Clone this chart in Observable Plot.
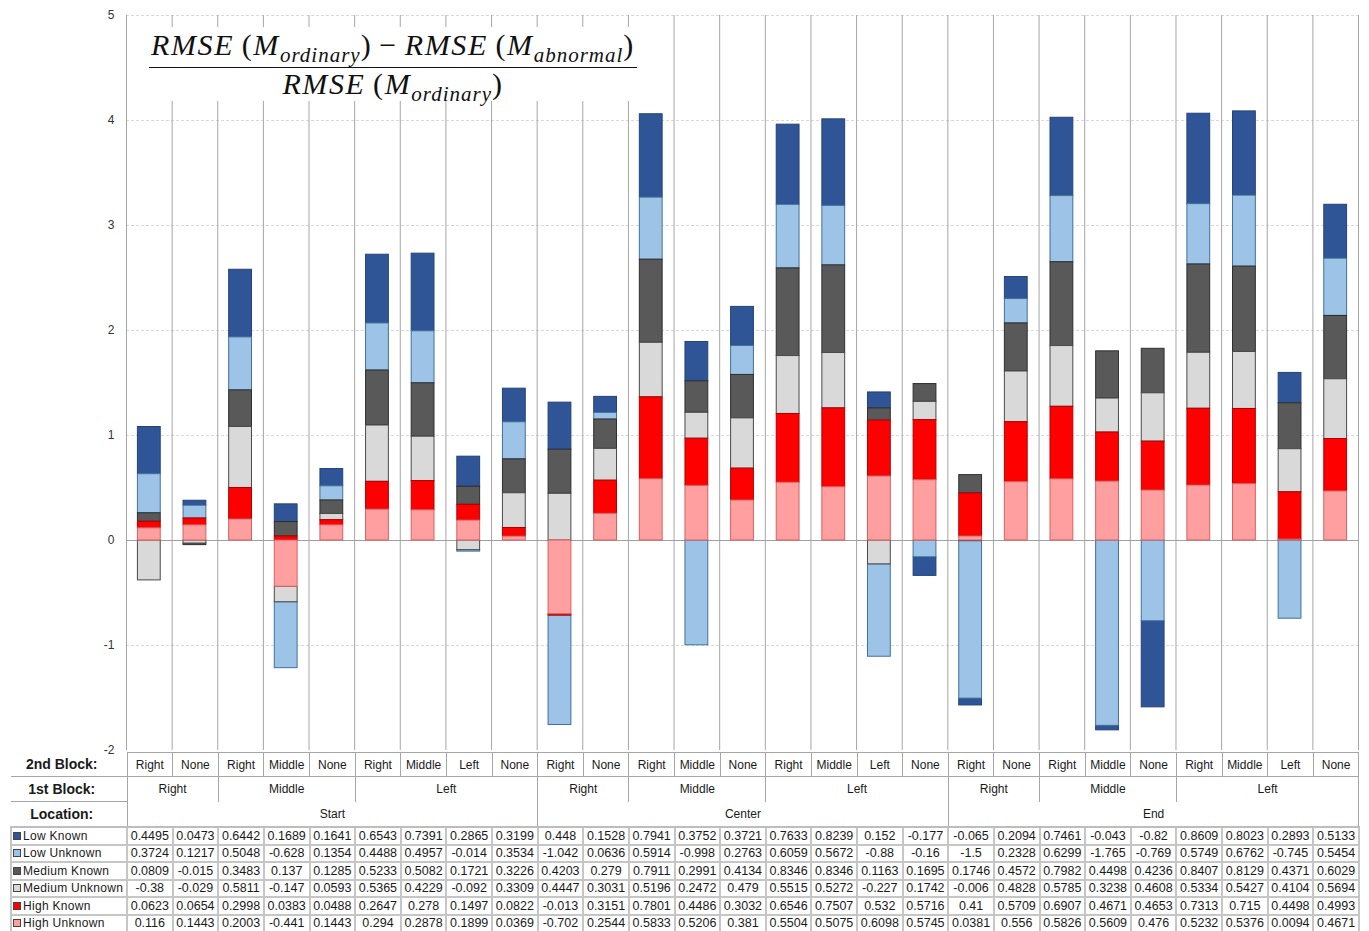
<!DOCTYPE html>
<html><head><meta charset="utf-8">
<script src="https://cdn.jsdelivr.net/npm/d3@7"></script>
<script src="https://cdn.jsdelivr.net/npm/@observablehq/plot@0.6"></script>
<style>
body{margin:0;background:#fff;font-family:"Liberation Sans",Arial,sans-serif;}
#wrap{position:relative;width:1369px;height:931px;overflow:hidden;background:#fff}
#chart{position:absolute;left:0;top:0}
#title{position:absolute;left:140px;top:27px;width:506px;height:74px;background:#fff;font-family:"Liberation Serif","Times New Roman",serif;color:#111;text-align:center;font-size:30px;line-height:1;letter-spacing:1.6px}
#title .num{display:inline-block;padding:3px 2px 7px 2px;border-bottom:1.5px solid #111;white-space:nowrap}
#title .den{display:block;padding-top:1px;white-space:nowrap}
#title sub{font-size:21px;vertical-align:-7px;line-height:0;letter-spacing:1px}
#title i{font-style:italic}
#title .op{margin:0 7px}
#tbl{position:absolute;left:10px;top:752px;border-collapse:collapse;table-layout:fixed;width:1348px;font-size:12px;color:#1a1a1a}
#tbl td{padding:0;text-align:center;overflow:hidden;white-space:nowrap}
#tbl tr.h1 td{height:23px;border:1px solid #a6a6a6}
#tbl tr.h2 td{height:24px;border-left:1px solid #a6a6a6;border-right:1px solid #a6a6a6;border-top:1px solid #a6a6a6;border-bottom:none}
#tbl tr.h3 td{height:24px;border-left:1px solid #a6a6a6;border-right:1px solid #a6a6a6;border-top:none;border-bottom:2px solid #bdbdbd}
#tbl tr.d td{height:15.5px;border:2px solid #c6c6c6;font-size:12.5px}
#tbl td.lab{font-weight:bold;font-size:14px;border-left:none !important;border-top:none !important;padding-right:14px}
#tbl tr.h2 td.lab, #tbl tr.h1 td.lab{border-bottom:1px solid #a6a6a6 !important}
#tbl tr.d td.sl{text-align:left;letter-spacing:0.3px;padding-left:1px;font-size:12px}
.sw{display:inline-block;width:6px;height:6px;border:1px solid #444;margin-right:2px;vertical-align:0px}
</style>
</head>
<body>
<div id="wrap">
  <div id="chart"></div>
  <div id="title">
    <span class="num"><i>RMSE</i>&#8201;(<i>M</i><sub><i>ordinary</i></sub>)<span class="op">−</span><i>RMSE</i>&#8201;(<i>M</i><sub><i>abnormal</i></sub>)</span>
    <span class="den"><i>RMSE</i>&#8201;(<i>M</i><sub><i>ordinary</i></sub>)</span>
  </div>
  <table id="tbl"></table>
</div>
<script>
// ---- data ----
const locations = ["Start", "Center", "End"];
const block1 = ["Right", "Right", "Middle", "Middle", "Middle", "Left", "Left", "Left", "Left"];
const block2 = ["Right", "None", "Right", "Middle", "None", "Right", "Middle", "Left", "None"];
const seriesNames = ["Low Known", "Low Unknown", "Medium Known", "Medium Unknown", "High Known", "High Unknown"];
const lowKnown = [0.4495, 0.0473, 0.6442, 0.1689, 0.1641, 0.6543, 0.7391, 0.2865, 0.3199,
  0.448, 0.1528, 0.7941, 0.3752, 0.3721, 0.7633, 0.8239, 0.152, -0.177,
  -0.065, 0.2094, 0.7461, -0.043, -0.82, 0.8609, 0.8023, 0.2893, 0.5133];
const lowUnknown = [0.3724, 0.1217, 0.5048, -0.628, 0.1354, 0.4488, 0.4957, -0.014, 0.3534,
  -1.042, 0.0636, 0.5914, -0.998, 0.2763, 0.6059, 0.5672, -0.88, -0.16,
  -1.5, 0.2328, 0.6299, -1.765, -0.769, 0.5749, 0.6762, -0.745, 0.5454];
const mediumKnown = [0.0809, -0.015, 0.3483, 0.137, 0.1285, 0.5233, 0.5082, 0.1721, 0.3226,
  0.4203, 0.279, 0.7911, 0.2991, 0.4134, 0.8346, 0.8346, 0.1163, 0.1695,
  0.1746, 0.4572, 0.7982, 0.4498, 0.4236, 0.8407, 0.8129, 0.4371, 0.6029];
const mediumUnknown = [-0.38, -0.029, 0.5811, -0.147, 0.0593, 0.5365, 0.4229, -0.092, 0.3309,
  0.4447, 0.3031, 0.5196, 0.2472, 0.479, 0.5515, 0.5272, -0.227, 0.1742,
  -0.006, 0.4828, 0.5785, 0.3238, 0.4608, 0.5334, 0.5427, 0.4104, 0.5694];
const highKnown = [0.0623, 0.0654, 0.2998, 0.0383, 0.0488, 0.2647, 0.278, 0.1497, 0.0822,
  -0.013, 0.3151, 0.7801, 0.4486, 0.3032, 0.6546, 0.7507, 0.532, 0.5716,
  0.41, 0.5709, 0.6907, 0.4671, 0.4653, 0.7313, 0.715, 0.4498, 0.4993];
const highUnknown = [0.116, 0.1443, 0.2003, -0.441, 0.1443, 0.294, 0.2878, 0.1899, 0.0369,
  -0.702, 0.2544, 0.5833, 0.5206, 0.381, 0.5504, 0.5075, 0.6098, 0.5745,
  0.0381, 0.556, 0.5826, 0.5609, 0.476, 0.5232, 0.5376, 0.0094, 0.4671];
const yTicks = [-2, -1, 0, 1, 2, 3, 4, 5];
const fillColors = ["#2f5597", "#9dc3e6", "#595959", "#d9d9d9", "#ff0000", "#ff9f9f"];
const strokeColors = ["#24427a", "#41719c", "#2e2e2e", "#4a4a4a", "#b00000", "#d86060"];
const stackOrder = ["High Unknown", "High Known", "Medium Unknown", "Medium Known", "Low Unknown", "Low Known"];

// ---- build ----
const seriesValues = [lowKnown, lowUnknown, mediumKnown, mediumUnknown, highKnown, highUnknown];
const columns = [];
locations.forEach(loc => block2.forEach((b2, j) => columns.push({loc, b1: block1[j], b2, key: `${loc}|${block1[j]}|${b2}`})));
const keys = columns.map(c => c.key);
const records = [];
seriesNames.forEach((s, si) => columns.forEach((c, ci) => records.push({
  key: c.key, series: s, value: seriesValues[si][ci], fill: fillColors[si], stroke: strokeColors[si]
})));

const W = 1369, ML = 126, MR = 11;
const step = (W - ML - MR) / keys.length;

const chart = Plot.plot({
  width: W, height: 760, marginLeft: ML, marginRight: MR, marginTop: 15, marginBottom: 10,
  style: {fontFamily: "Liberation Sans, Arial, sans-serif", fontSize: "12px", color: "#333", background: "transparent"},
  x: {domain: keys, paddingInner: 0.5, paddingOuter: 0.25, round: false, axis: null},
  y: {domain: [-2, 5], ticks: yTicks, tickSize: 0, tickPadding: 12, label: null, tickFormat: d => String(d)},
  marks: [
    Plot.ruleY(yTicks.filter(t => t !== 0 && t !== -2), {stroke: "#d9d9d9", strokeDasharray: "3,2"}),
    Plot.ruleX(keys, {x: d => d, dx: -step / 2, stroke: "#a6a6a6"}),
    Plot.ruleX(keys.slice(-1), {x: d => d, dx: step / 2, stroke: "#a6a6a6"}),
    Plot.ruleY([0], {stroke: "#a0a0a0"}),
    Plot.barY(records, {x: "key", y: "value", z: "series", order: stackOrder, fill: "fill", stroke: "stroke", strokeWidth: 1})
  ]
});
document.getElementById("chart").appendChild(chart);

// ---- table ----
function spans(arr) {
  const out = [];
  arr.forEach(v => {
    if (out.length && out[out.length - 1].v === v) out[out.length - 1].n++;
    else out.push({v, n: 1});
  });
  return out;
}
let html = `<colgroup><col style="width:116px">${keys.map(() => `<col style="width:${step}px">`).join("")}</colgroup>`;
html += `<tr class="h1"><td class="lab">2nd Block:</td>${columns.map(c => `<td>${c.b2}</td>`).join("")}</tr>`;
let r2 = "";
locations.forEach(loc => spans(block1).forEach(s => { r2 += `<td colspan="${s.n}">${s.v}</td>`; }));
html += `<tr class="h2"><td class="lab">1st Block:</td>${r2}</tr>`;
html += `<tr class="h3"><td class="lab">Location:</td>${locations.map(l => `<td colspan="${block2.length}">${l}</td>`).join("")}</tr>`;
seriesNames.forEach((s, si) => {
  html += `<tr class="d"><td class="sl"><span class="sw" style="background:${fillColors[si]}"></span>${s}</td>${seriesValues[si].map(v => `<td>${v}</td>`).join("")}</tr>`;
});
document.getElementById("tbl").innerHTML = html;
</script>
</body></html>
